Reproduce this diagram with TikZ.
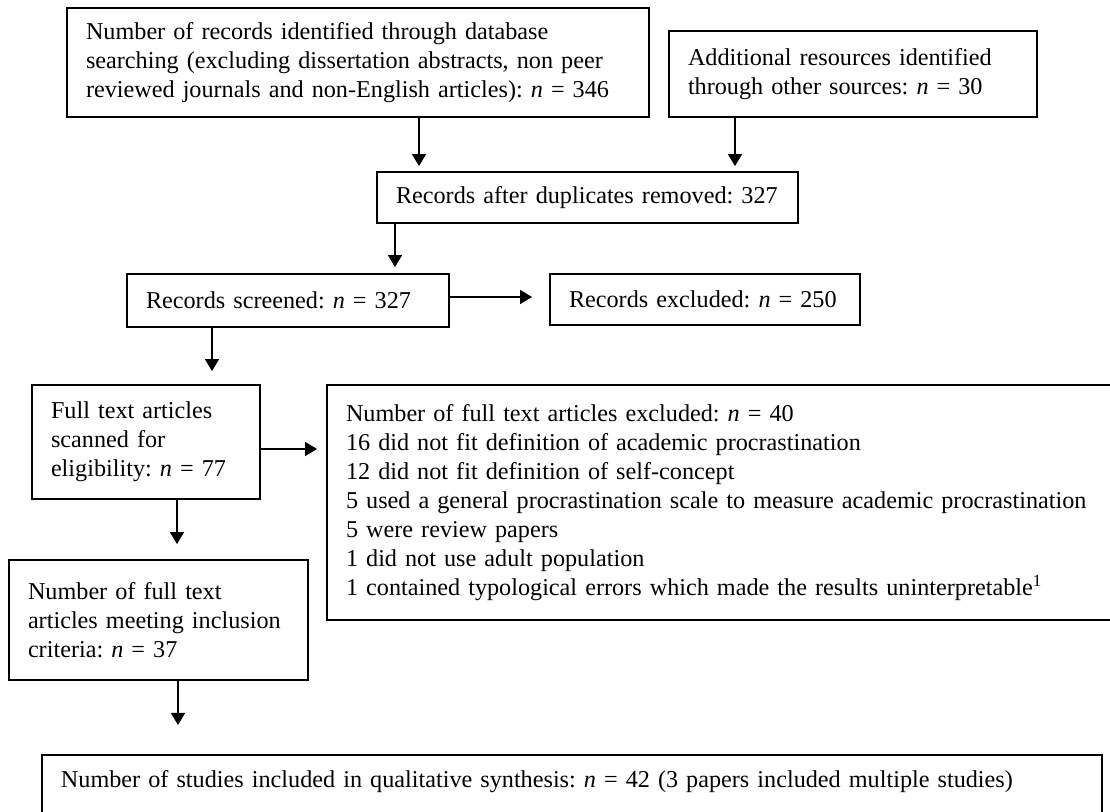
\documentclass[tikz,border=0pt]{standalone}
\usepackage{fontspec}
\setmainfont{Liberation Serif}
\usetikzlibrary{arrows.meta}

\begin{document}
\begin{tikzpicture}[x=0.5pt,y=-0.5pt,
        box/.style={draw,line width=0.9pt,align=left,inner xsep=9.5pt,inner ysep=0pt,
            font=\fontsize{12.1}{14.5}\selectfont\frenchspacing},
        flow/.style={->,line width=0.65pt},
        >={Triangle[length=6pt,width=7pt]}]
        \useasboundingbox (0,0) rectangle (1110,812);
        \clip (0,0) rectangle (1110,812);

        \node[box,text width=272pt,minimum height=54.5pt](db) at (358,62.5) {Number of records identified through database\\searching (excluding dissertation abstracts, non peer\\reviewed journals and non-English articles): \textit{n} = 346};
        \node[box,text width=165pt,minimum height=43pt](extra) at (853,74) {Additional resources identified\\through other sources: \textit{n} = 30};
        \node[box,text width=191.5pt,minimum height=25.5pt](dup) at (587.5,197.5) {Records after duplicates removed: 327};
        \node[box,text width=142pt,minimum height=26.5pt](screen) at (288,300.5) {Records screened: \textit{n} = 327};
        \node[box,text width=136pt,minimum height=25.5pt](recexcl) at (705,299.5) {Records excluded: \textit{n} = 250};
        \node[box,text width=95pt,minimum height=57pt](full) at (146,442) {Full text articles\\scanned for\\eligibility: \textit{n} = 77};
        \node[box,text width=392.5pt,minimum height=117.5pt](fullexcl) at (738.5,502.5) {Number of full text articles excluded: \textit{n} = 40\\16 did not fit definition of academic procrastination\\12 did not fit definition of self-concept\\5 used a general procrastination scale to measure academic procrastination\\5 were review papers\\1 did not use adult population\\1 contained typological errors which made the results uninterpretable\textsuperscript{1}};
        \node[box,text width=130.5pt,minimum height=60pt](incl) at (158.5,620) {Number of full text\\articles meeting inclusion\\criteria: \textit{n} = 37};
        \node[box,text width=511pt,inner ysep=8pt,text depth=40pt,anchor=north](synth) at (572,754) {Number of studies included in qualitative synthesis: \textit{n} = 42 (3 papers included multiple studies)};

        \draw[flow,shorten >=2.5pt] (db.south -| 419,0) -- (dup.north -| 419,0);
        \draw[flow,shorten >=2.5pt] (extra.south -| 735,0) -- (dup.north -| 735,0);
        \draw[flow,shorten >=3pt] (dup.south -| 395,0) -- (screen.north -| 395,0);
        \draw[flow,shorten >=8.5pt] (screen.east |- 0,297) -- (recexcl.west |- 0,297);
        \draw[flow,shorten >=6.5pt] (screen.south -| 212,0) -- (full.north -| 212,0);
        \draw[flow,shorten >=4.5pt] (full.east |- 0,449) -- (fullexcl.west |- 0,449);
        \draw[flow,shorten >=7.5pt] (full.south -| 177,0) -- (incl.north -| 177,0);
        \draw[flow,shorten >=14.5pt] (incl.south -| 178,0) -- (synth.north -| 178,0);
    \end{tikzpicture}
\end{document}
